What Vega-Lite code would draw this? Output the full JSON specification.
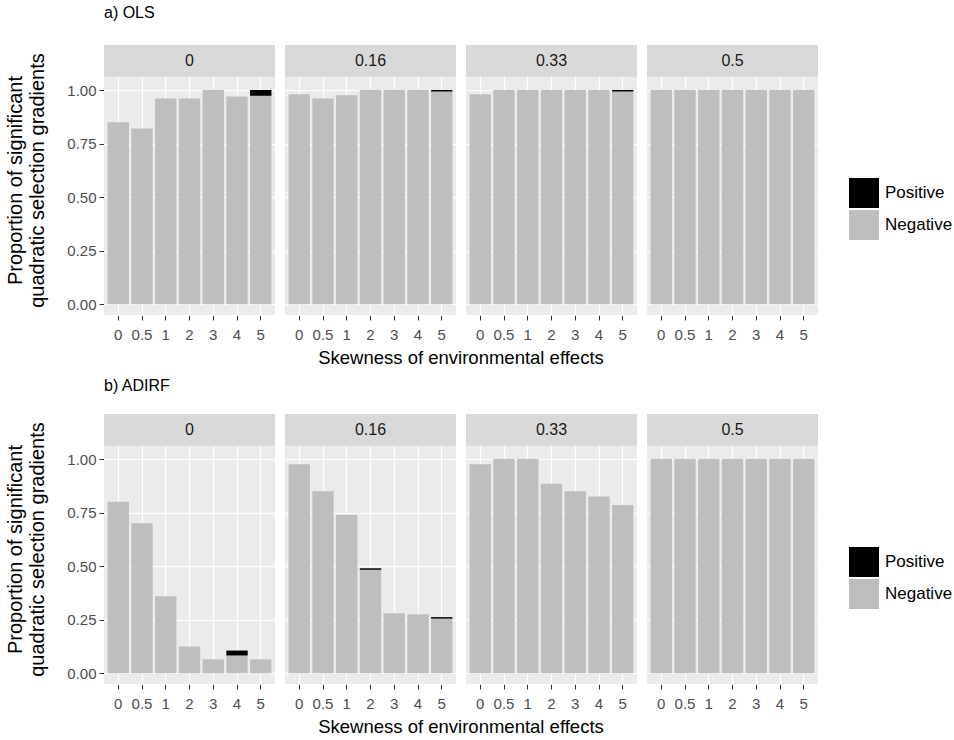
{
  "$schema": "https://vega.github.io/schema/vega-lite/v6.json",
  "padding": {"left": 5, "top": 5, "right": 5, "bottom": 0},
  "background": "#FFFFFF",
  "datasets": {
    "ols": [
      {"level": "0", "skew": "0", "type": "Negative", "value": 0.85},
      {"level": "0", "skew": "0.5", "type": "Negative", "value": 0.82},
      {"level": "0", "skew": "1", "type": "Negative", "value": 0.96},
      {"level": "0", "skew": "2", "type": "Negative", "value": 0.96},
      {"level": "0", "skew": "3", "type": "Negative", "value": 1.0},
      {"level": "0", "skew": "4", "type": "Negative", "value": 0.97},
      {"level": "0", "skew": "5", "type": "Negative", "value": 0.973},
      {"level": "0", "skew": "5", "type": "Positive", "value": 0.027},
      {"level": "0.16", "skew": "0", "type": "Negative", "value": 0.98},
      {"level": "0.16", "skew": "0.5", "type": "Negative", "value": 0.96},
      {"level": "0.16", "skew": "1", "type": "Negative", "value": 0.975},
      {"level": "0.16", "skew": "2", "type": "Negative", "value": 1.0},
      {"level": "0.16", "skew": "3", "type": "Negative", "value": 1.0},
      {"level": "0.16", "skew": "4", "type": "Negative", "value": 1.0},
      {"level": "0.16", "skew": "5", "type": "Negative", "value": 0.993},
      {"level": "0.16", "skew": "5", "type": "Positive", "value": 0.007},
      {"level": "0.33", "skew": "0", "type": "Negative", "value": 0.98},
      {"level": "0.33", "skew": "0.5", "type": "Negative", "value": 1.0},
      {"level": "0.33", "skew": "1", "type": "Negative", "value": 1.0},
      {"level": "0.33", "skew": "2", "type": "Negative", "value": 1.0},
      {"level": "0.33", "skew": "3", "type": "Negative", "value": 1.0},
      {"level": "0.33", "skew": "4", "type": "Negative", "value": 1.0},
      {"level": "0.33", "skew": "5", "type": "Negative", "value": 0.993},
      {"level": "0.33", "skew": "5", "type": "Positive", "value": 0.007},
      {"level": "0.5", "skew": "0", "type": "Negative", "value": 1.0},
      {"level": "0.5", "skew": "0.5", "type": "Negative", "value": 1.0},
      {"level": "0.5", "skew": "1", "type": "Negative", "value": 1.0},
      {"level": "0.5", "skew": "2", "type": "Negative", "value": 1.0},
      {"level": "0.5", "skew": "3", "type": "Negative", "value": 1.0},
      {"level": "0.5", "skew": "4", "type": "Negative", "value": 1.0},
      {"level": "0.5", "skew": "5", "type": "Negative", "value": 1.0}
    ],
    "adirf": [
      {"level": "0", "skew": "0", "type": "Negative", "value": 0.80},
      {"level": "0", "skew": "0.5", "type": "Negative", "value": 0.70},
      {"level": "0", "skew": "1", "type": "Negative", "value": 0.36},
      {"level": "0", "skew": "2", "type": "Negative", "value": 0.125},
      {"level": "0", "skew": "3", "type": "Negative", "value": 0.065},
      {"level": "0", "skew": "4", "type": "Negative", "value": 0.083},
      {"level": "0", "skew": "4", "type": "Positive", "value": 0.023},
      {"level": "0", "skew": "5", "type": "Negative", "value": 0.065},
      {"level": "0.16", "skew": "0", "type": "Negative", "value": 0.975},
      {"level": "0.16", "skew": "0.5", "type": "Negative", "value": 0.85},
      {"level": "0.16", "skew": "1", "type": "Negative", "value": 0.74},
      {"level": "0.16", "skew": "2", "type": "Negative", "value": 0.483},
      {"level": "0.16", "skew": "2", "type": "Positive", "value": 0.007},
      {"level": "0.16", "skew": "3", "type": "Negative", "value": 0.28},
      {"level": "0.16", "skew": "4", "type": "Negative", "value": 0.275},
      {"level": "0.16", "skew": "5", "type": "Negative", "value": 0.255},
      {"level": "0.16", "skew": "5", "type": "Positive", "value": 0.007},
      {"level": "0.33", "skew": "0", "type": "Negative", "value": 0.975},
      {"level": "0.33", "skew": "0.5", "type": "Negative", "value": 1.0},
      {"level": "0.33", "skew": "1", "type": "Negative", "value": 1.0},
      {"level": "0.33", "skew": "2", "type": "Negative", "value": 0.885},
      {"level": "0.33", "skew": "3", "type": "Negative", "value": 0.85},
      {"level": "0.33", "skew": "4", "type": "Negative", "value": 0.825},
      {"level": "0.33", "skew": "5", "type": "Negative", "value": 0.785},
      {"level": "0.5", "skew": "0", "type": "Negative", "value": 1.0},
      {"level": "0.5", "skew": "0.5", "type": "Negative", "value": 1.0},
      {"level": "0.5", "skew": "1", "type": "Negative", "value": 1.0},
      {"level": "0.5", "skew": "2", "type": "Negative", "value": 1.0},
      {"level": "0.5", "skew": "3", "type": "Negative", "value": 1.0},
      {"level": "0.5", "skew": "4", "type": "Negative", "value": 1.0},
      {"level": "0.5", "skew": "5", "type": "Negative", "value": 1.0}
    ]
  },
  "config": {
    "font": "Liberation Sans",
    "view": {"fill": "#EBEBEB", "stroke": null},
    "axis": {
      "domain": false,
      "labelColor": "#4D4D4D",
      "labelFontSize": 15,
      "tickColor": "#333333",
      "tickSize": 5,
      "labelPadding": 3,
      "titleColor": "#000000",
      "titleFontSize": 20,
      "titleFontWeight": "normal",
      "gridColor": "#FFFFFF"
    },
    "header": {
      "labels": false,
      "titleOrient": "bottom",
      "titleFontSize": 18.5,
      "titleFontWeight": "normal",
      "titleColor": "#000000",
      "titlePadding": -3
    },
    "legend": {
      "labelFontSize": 17,
      "labelColor": "#000000"
    },
    "title": {"fontSize": 16, "fontWeight": "normal", "color": "#000000"}
  },
  "resolve": {"scale": {"color": "independent"}, "legend": {"color": "independent"}},
  "spacing": 10,
  "vconcat": [
    {
      "title": {"text": "a) OLS", "anchor": "start", "frame": "group", "offset": 24},
      "data": {"name": "ols"},
      "facet": {"column": {"field": "level", "type": "ordinal", "title": "Skewness of environmental effects", "sort": ["0", "0.16", "0.33", "0.5"]}},
      "spacing": 10,
      "spec": {
        "width": 171,
        "height": 270,
        "layer": [
          {
            "mark": {"type": "bar"},
            "encoding": {
              "x": {"field": "skew", "type": "ordinal", "sort": ["0", "0.5", "1", "2", "3", "4", "5"],
                    "scale": {"paddingInner": 0.1, "paddingOuter": 0.15},
                    "axis": {"title": null, "labelAngle": 0, "grid": true, "bandPosition": 0.5, "gridWidth": 1.2, "labelPadding": 7}},
              "y": {"field": "value", "type": "quantitative",
                    "scale": {"domain": [-0.05, 1.21], "nice": false, "zero": false},
                    "axis": {"title": ["Proportion of significant", "quadratic selection gradients"],
                             "values": [0, 0.125, 0.25, 0.375, 0.5, 0.625, 0.75, 0.875, 1],
                             "labelExpr": "(datum.value * 4) % 1 == 0 ? format(datum.value, '.2f') : ''",
                             "tickOpacity": {"condition": {"test": "(datum.value * 4) % 1 == 0", "value": 1}, "value": 0},
                             "gridWidth": {"condition": {"test": "(datum.value * 4) % 1 == 0", "value": 1.2}, "value": 0.6},
                             "labelOverlap": false, "titlePadding": 19}},
              "color": {"field": "type", "type": "nominal",
                        "scale": {"domain": ["Positive", "Negative"], "range": ["#000000", "#BEBEBE"]},
                        "legend": {"title": null, "orient": "none", "legendX": 745, "legendY": 133, "symbolType": "square", "symbolSize": 900, "symbolStrokeWidth": 0, "symbolOpacity": 1, "rowPadding": 2, "labelOffset": 6}},
              "order": {"field": "type", "sort": "ascending"}
            }
          },
          {
            "transform": [{"filter": "datum.skew == '0' && datum.type == 'Negative'"}],
            "mark": {"type": "rect", "color": "#D9D9D9"},
            "encoding": {"x": {"value": 0}, "x2": {"value": "width"}, "y": {"datum": 1.062}, "y2": {"datum": 1.21}}
          },
          {
            "transform": [{"filter": "datum.skew == '0' && datum.type == 'Negative'"}],
            "mark": {"type": "text", "fontSize": 16, "color": "#1A1A1A", "baseline": "middle"},
            "encoding": {"y": {"datum": 1.136}, "text": {"field": "level"}}
          }
        ]
      }
    },
    {
      "title": {"text": "b) ADIRF", "anchor": "start", "frame": "group", "offset": 20},
      "data": {"name": "adirf"},
      "facet": {"column": {"field": "level", "type": "ordinal", "title": "Skewness of environmental effects", "sort": ["0", "0.16", "0.33", "0.5"]}},
      "spacing": 10,
      "spec": {
        "width": 171,
        "height": 270,
        "layer": [
          {
            "mark": {"type": "bar"},
            "encoding": {
              "x": {"field": "skew", "type": "ordinal", "sort": ["0", "0.5", "1", "2", "3", "4", "5"],
                    "scale": {"paddingInner": 0.1, "paddingOuter": 0.15},
                    "axis": {"title": null, "labelAngle": 0, "grid": true, "bandPosition": 0.5, "gridWidth": 1.2, "labelPadding": 7}},
              "y": {"field": "value", "type": "quantitative",
                    "scale": {"domain": [-0.05, 1.21], "nice": false, "zero": false},
                    "axis": {"title": ["Proportion of significant", "quadratic selection gradients"],
                             "values": [0, 0.125, 0.25, 0.375, 0.5, 0.625, 0.75, 0.875, 1],
                             "labelExpr": "(datum.value * 4) % 1 == 0 ? format(datum.value, '.2f') : ''",
                             "tickOpacity": {"condition": {"test": "(datum.value * 4) % 1 == 0", "value": 1}, "value": 0},
                             "gridWidth": {"condition": {"test": "(datum.value * 4) % 1 == 0", "value": 1.2}, "value": 0.6},
                             "labelOverlap": false, "titlePadding": 19}},
              "color": {"field": "type", "type": "nominal",
                        "scale": {"domain": ["Positive", "Negative"], "range": ["#000000", "#BEBEBE"]},
                        "legend": {"title": null, "orient": "none", "legendX": 745, "legendY": 133, "symbolType": "square", "symbolSize": 900, "symbolStrokeWidth": 0, "symbolOpacity": 1, "rowPadding": 2, "labelOffset": 6}},
              "order": {"field": "type", "sort": "ascending"}
            }
          },
          {
            "transform": [{"filter": "datum.skew == '0' && datum.type == 'Negative'"}],
            "mark": {"type": "rect", "color": "#D9D9D9"},
            "encoding": {"x": {"value": 0}, "x2": {"value": "width"}, "y": {"datum": 1.062}, "y2": {"datum": 1.21}}
          },
          {
            "transform": [{"filter": "datum.skew == '0' && datum.type == 'Negative'"}],
            "mark": {"type": "text", "fontSize": 16, "color": "#1A1A1A", "baseline": "middle"},
            "encoding": {"y": {"datum": 1.136}, "text": {"field": "level"}}
          }
        ]
      }
    }
  ]
}
